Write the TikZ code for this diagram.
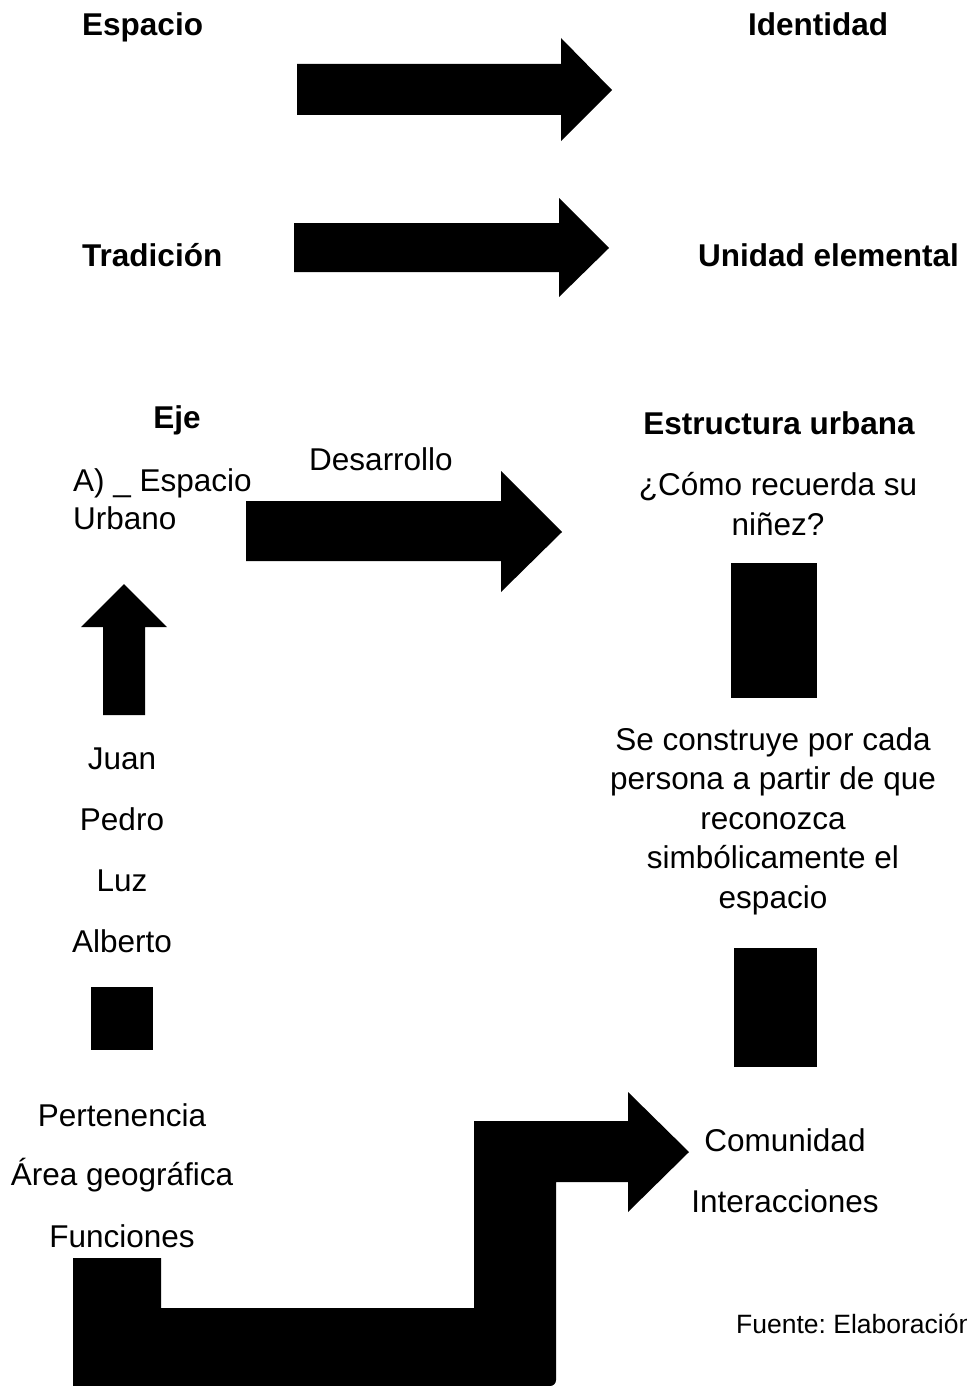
\documentclass[tikz,border=0pt]{standalone}
\usepackage{fontspec}
\setmainfont{Liberation Sans}
\usepackage{tikz}
\usetikzlibrary{calc,positioning}
\frenchspacing

\tikzset{
	blk/.style={fill=black},
	txt/.style={inner sep=0pt,anchor=base,font=\fontsize{31.5}{39.5}\selectfont},
	ttl/.style={txt,font=\fontsize{31.5}{39.5}\selectfont\bfseries},
}

\begin{document}
\begin{tikzpicture}[x=1pt,y=-1pt]
	\useasboundingbox (0,0) rectangle (966,1386);

	% titulos
	\node[ttl,anchor=base west] (espacio) at (82,36) {Espacio};
	\node[ttl,anchor=base west] (identidad) at (748,36) {Identidad};
	\node[ttl,anchor=base west] (tradicion) at (82,266) {Tradición};
	\node[ttl,anchor=base west] (unidad) at (698,266) {Unidad elemental};

	\fill[blk] (297,64) -- (561,64) -- (561,38) -- (612,90) -- (561,141) -- (561,115) -- (297,115) -- cycle;
	\fill[blk] (294,223) -- (559,223) -- (559,198) -- (609,248) -- (559,297) -- (559,272) -- (294,272) -- cycle;

	% eje
	\node[ttl] (eje) at (177,428) {Eje};
	\node[ttl] (estructura) at (779,434) {Estructura urbana};
	\node[txt] (desarrollo) at (381,470) {Desarrollo};
	\node[txt,anchor=base west] (ejeA) at (73,491) {A) \_ Espacio};
	\node[txt,anchor=base west] (ejeB) at (73,529) {Urbano};
	% base = ultima linea
	\node[txt,align=center] (recuerda) at (778,535) {¿Cómo recuerda su\\niñez?};

	\fill[blk] (246,501) -- (501,501) -- (501,471) -- (562,532) -- (501,592) -- (501,561) -- (246,561) -- cycle;
	\fill[blk] (731,563) rectangle (817,698);

	\fill[blk] (103,715) -- (103,627) -- (81,627) -- (124,584) -- (167,627) -- (145,627) -- (145,715) -- cycle;

	\node[txt] (juan) at (122,769) {Juan};
	\node[txt] (pedro) at (122,830) {Pedro};
	\node[txt] (luz) at (122,891) {Luz};
	\node[txt] (alberto) at (122,952) {Alberto};
	\fill[blk] (91,987) rectangle (153,1050);

	\node[txt,align=center] (construye) at (773,908) {Se construye por cada\\persona a partir de que\\reconozca\\simbólicamente el\\espacio};
	\fill[blk] (734,948) rectangle (817,1067);

	\node[txt] (pertenencia) at (122,1126) {Pertenencia};
	\node[txt] (area) at (122,1185) {Área geográfica};
	\node[txt] (funciones) at (122,1247) {Funciones};

	\node[txt] (comunidad) at (785,1151) {Comunidad};
	\node[txt] (interacciones) at (785,1212) {Interacciones};

	\fill[blk] (73,1258) -- (161,1258) -- (161,1308) -- (474,1308) -- (474,1121) -- (628,1121) -- (628,1092) -- (689,1152) -- (628,1212) -- (628,1182) -- (556,1182) [rounded corners=6pt] -- (556,1386) [sharp corners] -- (73,1386) -- cycle;

	\node[txt,anchor=base west,font=\fontsize{26.5}{31}\selectfont] (fuente) at (736,1333) {Fuente: Elaboración};
\end{tikzpicture}
\end{document}
